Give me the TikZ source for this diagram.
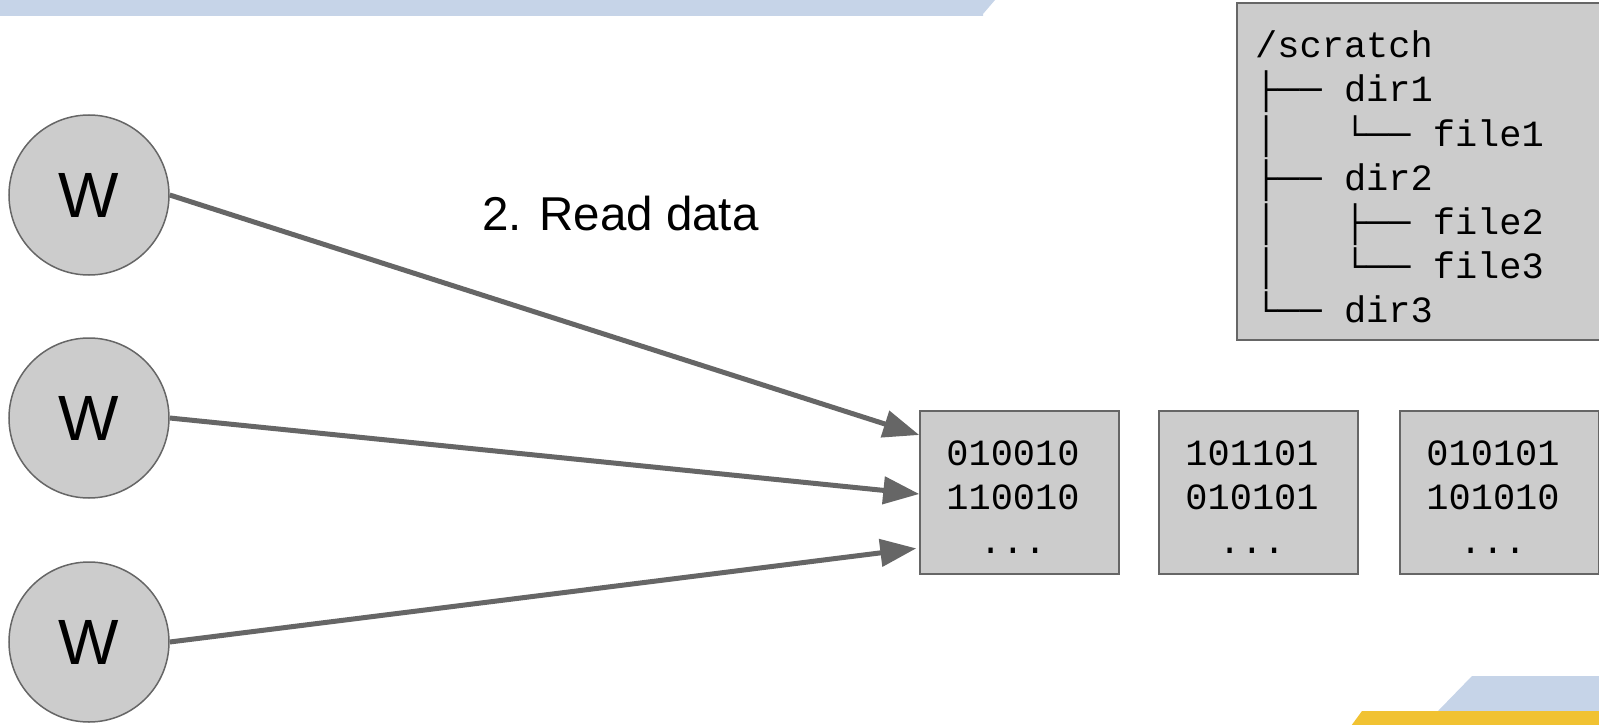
\documentclass[tikz,border=0pt]{standalone}
\usepackage{fontspec}
\setmainfont{Liberation Sans}
\newfontfamily\monof{Liberation Mono}
\usetikzlibrary{arrows.meta}
\definecolor{bannerblue}{HTML}{C6D4E8}
\definecolor{banneryellow}{HTML}{F1C232}
\definecolor{boxgray}{HTML}{CCCCCC}
\definecolor{edgegray}{HTML}{666666}
\tikzset{
  worker/.style={circle, draw=edgegray, fill=boxgray, line width=1.5pt, minimum size=160pt, inner sep=0pt, font=\fontsize{64}{70}\selectfont},
  databox/.style={draw=edgegray, fill=boxgray, line width=1.5pt, minimum width=199pt, minimum height=163pt, inner sep=0pt},
  monotext/.style={font=\monof\fontsize{37}{44}\selectfont, inner sep=0pt},
  datatext/.style={monotext, anchor=base},
  treetext/.style={monotext, anchor=base west},
  arrowline/.style={draw=edgegray, line width=5pt, -{Triangle[length=36pt,width=27pt]}},
}
\begin{document}
\begin{tikzpicture}[x=1pt,y=-1pt]
\useasboundingbox (0,0) rectangle (1599,725);
% decorative bands
\fill[bannerblue] (0,0) -- (995,0) -- (983,14) -- (983,16) -- (0,16) -- cycle;
\fill[bannerblue] (1472,676) -- (1600,676) -- (1600,711) -- (1438,711) -- cycle;
\fill[banneryellow] (1362,711) -- (1600,711) -- (1600,726) -- (1351,726) -- cycle;
% workers
\node[worker] (w1) at (89,195) {W};
\node[worker] (w2) at (89,418) {W};
\node[worker] (w3) at (89,642) {W};
% data boxes
\node[databox] (b1) at (1019.5,492.5) {};
\node[databox] (b2) at (1258.5,492.5) {};
\node[databox] (b3) at (1499.5,492.5) {};
\node[datatext] (b1a) at (1013,465) {010010};
\node[datatext] (b1b) at (1013,509) {110010};
\node[datatext] (b1c) at (1013,553) {...};
\node[datatext] (b2a) at (1252,465) {101101};
\node[datatext] (b2b) at (1252,509) {010101};
\node[datatext] (b2c) at (1252,553) {...};
\node[datatext] (b3a) at (1493,465) {010101};
\node[datatext] (b3b) at (1493,509) {101010};
\node[datatext] (b3c) at (1493,553) {...};
% tree box
\node[draw=edgegray, fill=boxgray, line width=1.5pt, minimum width=363pt, minimum height=337pt, inner sep=0pt] (tree) at (1418.5,171.5) {};
\node[treetext] (t1) at (1255,58) {/scratch};
\node[treetext] (t2) at (1255,102) {├──~dir1};
\node[treetext] (t3) at (1255,146) {│~~~└──~file1};
\node[treetext] (t4) at (1255,190) {├──~dir2};
\node[treetext] (t5) at (1255,234) {│~~~├──~file2};
\node[treetext] (t6) at (1255,278) {│~~~└──~file3};
\node[treetext] (t7) at (1255,322) {└──~dir3};
% label
\node[font=\fontsize{47.5}{52}\selectfont, anchor=base west, inner sep=0pt] (lbl) at (482,230) {2. Read data};
% arrows
\draw[arrowline] (w1.east) -- ([yshift=57.5pt]b1.west);
\draw[arrowline] (w2.east) -- ([yshift=-1.5pt]b1.west);
\draw[arrowline, shorten >=3pt] (w3.east) -- ([yshift=-55.5pt]b1.west);
\end{tikzpicture}
\end{document}
